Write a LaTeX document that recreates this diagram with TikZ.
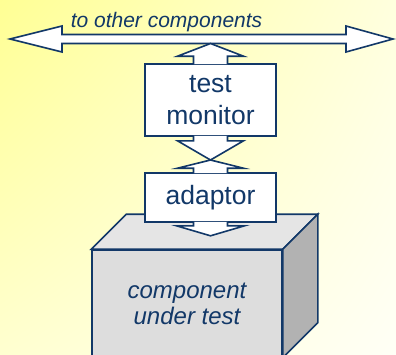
\documentclass[tikz,border=0pt]{standalone}
\usepackage{fontspec}
\setmainfont{Liberation Sans}
\usepackage{tikz}
\usetikzlibrary{calc,positioning,shadings}

\definecolor{linkblue}{RGB}{18,56,104}
\definecolor{cubefront}{RGB}{221,221,221}
\definecolor{cubetop}{RGB}{229,229,229}
\definecolor{cubeside}{RGB}{178,178,178}
\definecolor{bgA}{RGB}{255,255,148}
\definecolor{bgB}{RGB}{255,255,222}
\definecolor{bgC}{RGB}{255,255,208}
\definecolor{bgD}{RGB}{255,255,246}

\tikzset{
    outline/.style={draw=linkblue, line width=1.6pt, line join=miter},
    boxnode/.style={outline, fill=white, minimum width=131pt, inner sep=0pt,
        text=linkblue, font=\fontsize{26.5}{32}\selectfont, align=center},
}

\begin{document}
\begin{tikzpicture}[x=1pt, y=-1pt]
        % Background
        \shade[upper left=bgA, upper right=bgB, lower left=bgC, lower right=bgD] (0,0) rectangle (396,354);
        \useasboundingbox (0,0) rectangle (396,354);

        % Bus to the other components
        \filldraw[outline, fill=white] (10,39) -- (62,26) -- (62,34.5) -- (346,34.5) -- (346,26) -- (393,39)
            -- (346,52) -- (346,43.5) -- (62,43.5) -- (62,52) -- cycle;
        \node[anchor=base, text=linkblue, font=\fontsize{21}{24}\selectfont\itshape] (buslabel) at (166.5,27.3) {to other components};
        \coordinate (tap) at (210.5,43.5);

        % Component under test
        \node[outline, fill=cubefront, minimum width=190pt, minimum height=107pt, inner sep=0pt,
            text=linkblue, font=\fontsize{24}{26}\selectfont\itshape, align=center] (cut) at (187,303.5) {component\\under test};
        \draw[outline, fill=cubetop] (cut.north west) -- ++(35,-35) -- ($(cut.north east)+(35,-35)$) -- (cut.north east) -- cycle;
        \draw[outline, fill=cubeside] (cut.north east) -- ++(35,-35) -- ($(cut.south east)+(35,-35)$) -- (cut.south east) -- cycle;

        % Monitor and adaptor
        \node[boxnode, minimum height=72pt] (monitor) at (210.5,100) {test\\monitor};
        \node[boxnode, minimum height=49pt] (adaptor) at (210.5,197.5) {adaptor};
        \coordinate (mid) at (210.5,160);

        % Block arrows between them
        \filldraw[outline, fill=white] ($(monitor.north)+(-17,1)$) -- ++(0,-8) -- ++(-16,0) -- (tap)
            -- ($(monitor.north)+(33,-7)$) -- ++(-16,0) -- ++(0,8);
        \filldraw[outline, fill=white] ($(monitor.south)+(-17,-1)$) -- ++(0,5) -- ++(-16,0) -- (mid)
            -- ($(monitor.south)+(33,4)$) -- ++(-16,0) -- ++(0,-5);
        \filldraw[outline, fill=white] ($(adaptor.north)+(-17,1)$) -- ++(0,-5) -- ++(-16,0) -- (mid)
            -- ($(adaptor.north)+(33,-4)$) -- ++(-16,0) -- ++(0,5);
        \filldraw[outline, fill=white] ($(adaptor.south)+(-17,-1)$) -- ++(0,4) -- ++(-17,0) -- ($(adaptor.south)+(0,13)$)
            -- ($(adaptor.south)+(34,3)$) -- ++(-17,0) -- ++(0,-4);
\end{tikzpicture}
\end{document}
